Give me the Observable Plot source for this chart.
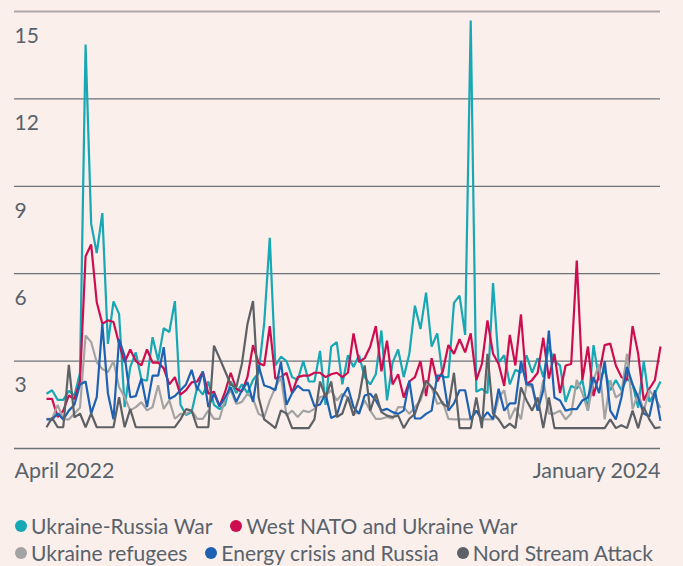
<!DOCTYPE html>
<html>
<head>
<meta charset="utf-8">
<script src="https://cdn.jsdelivr.net/npm/d3@7"></script>
<script src="https://cdn.jsdelivr.net/npm/@observablehq/plot@0.6"></script>
<style>
  html, body { margin: 0; padding: 0; background: #fbefec; }
  body { width: 683px; height: 566px; overflow: hidden; font-family: Lato, "Open Sans", sans-serif; color: #58626b; }
  #legend { margin-top: 12px; padding-left: 15px; font-size: 21px; line-height: 27px; }
  .row { display: flex; align-items: center; white-space: nowrap; }
  .item { display: flex; align-items: center; margin-right: 18px; }
  .dot { width: 12px; height: 12px; border-radius: 50%; margin-right: 4px; flex: none; }
</style>
</head>
<body>
<div id="chart"></div>
<div id="legend"></div>
<script>
// Series names, colours and legend rows
const seriesNames = ["Ukraine-Russia War", "West NATO and Ukraine War", "Ukraine refugees", "Energy crisis and Russia", "Nord Stream Attack"];
const seriesColors = ["#17a8b5", "#cc0d4f", "#a3a3a3", "#1d62b2", "#5d6165"];
const legendRows = [[0, 1], [2, 3, 4]];

// Tick labels
const yTicks = [0, 3, 6, 9, 12, 15];
const xLabels = ["April 2022", "January 2024"];

// Series values (one value per period, left to right)
const ukraineRussiaWar = [1.88,2.0,1.67,1.67,1.98,1.81,2.6,13.87,7.71,6.71,8.08,3.59,5.05,4.62,1.42,2.79,3.3,2.37,2.33,3.82,3.02,4.13,4.0,5.06,1.5,1.15,1.25,2.1,1.85,2.3,1.5,1.35,1.5,2.3,1.9,2.2,1.9,2.35,2.6,4.3,7.23,2.85,3.15,3.0,2.45,2.35,3.0,2.3,2.3,3.35,1.5,3.5,3.65,2.2,3.2,2.8,3.2,2.45,2.2,2.55,4.05,1.65,2.95,3.4,2.45,3.25,4.9,4.1,5.35,3.5,3.95,2.45,2.45,5.0,5.25,3.9,14.69,1.95,2.05,1.9,5.68,2.95,3.2,2.2,2.7,2.6,3.2,2.6,3.1,2.45,3.5,3.0,2.85,1.6,2.15,2.05,2.35,1.3,3.55,2.35,2.7,2.0,2.35,2.0,2.4,2.2,1.4,3.0,1.6,1.9,2.3];
const westNatoUkraineWar = [1.7,1.7,1.08,1.3,1.82,1.7,2.3,6.6,7.0,5.02,4.28,4.4,4.34,3.6,2.96,3.4,3.0,2.85,3.4,2.95,2.95,2.75,2.2,2.45,1.85,2.0,2.27,2.3,2.63,1.88,1.95,1.45,1.95,2.6,2.05,1.95,2.45,3.55,2.93,2.85,4.2,2.4,2.45,2.6,1.9,2.45,2.5,2.5,2.6,2.6,2.45,2.55,2.6,2.45,2.6,3.95,2.97,3.1,3.5,4.2,2.65,3.7,2.2,2.55,1.75,2.3,2.45,3.0,1.8,3.1,2.3,2.65,3.55,3.25,3.75,3.3,3.95,2.35,2.9,4.4,3.25,2.9,2.15,3.9,2.85,4.6,2.2,2.35,2.6,3.8,2.4,3.25,1.9,2.85,2.9,6.45,2.35,3.5,1.8,2.55,3.55,3.6,2.85,2.45,2.35,4.2,3.25,1.65,2.05,2.35,3.5];
const ukraineRefugees = [1.02,1.02,1.5,1.0,1.0,1.2,1.4,3.88,3.65,2.96,2.73,2.62,3.0,2.1,1.76,1.31,1.42,1.59,1.31,1.42,2.17,1.36,1.65,1.02,1.19,1.19,1.31,1.02,1.02,1.31,1.02,1.02,1.7,2.0,1.53,1.6,1.88,1.7,1.19,1.08,1.65,2.1,2.45,1.13,1.3,1.08,1.3,1.25,1.36,1.76,1.82,2.0,1.65,1.88,1.76,1.19,1.25,1.65,1.3,1.02,1.02,1.08,1.02,1.42,1.42,1.19,1.42,1.65,2.28,2.1,1.53,1.6,1.02,1.0,1.0,1.0,1.0,1.3,1.0,1.0,1.0,1.75,2.0,1.0,1.4,1.0,2.2,2.1,1.3,2.35,1.2,1.2,1.3,1.0,1.2,2.35,1.9,1.3,2.35,2.9,1.0,2.35,1.75,1.9,3.25,1.35,1.9,1.3,2.0,1.75,1.4];
const energyCrisisRussia = [1.0,1.0,1.2,1.0,1.3,1.5,2.2,2.3,1.2,1.76,4.28,1.9,1.0,3.75,3.17,1.76,1.8,2.4,1.42,2.5,2.5,3.48,1.7,1.8,2.0,2.2,2.7,2.0,2.65,1.42,1.88,1.45,1.76,2.1,1.6,2.0,2.28,1.6,2.85,2.16,2.1,2.0,2.97,1.5,1.9,2.16,2.0,2.0,1.45,1.51,1.88,1.05,1.14,1.76,2.1,1.42,1.19,1.82,1.88,1.65,1.3,1.36,1.25,1.19,1.3,2.33,1.03,1.03,1.19,1.3,2.5,2.5,1.3,1.55,2.0,2.0,1.0,1.3,1.0,1.25,1.0,2.05,1.3,1.55,1.55,3.0,2.2,2.2,1.3,2.0,4.05,1.75,1.65,1.3,1.35,1.35,1.65,1.75,2.45,1.9,3.0,1.3,1.0,1.75,2.8,2.2,1.75,1.2,1.1,2.0,0.95];
const nordStreamAttack = [0.73,1.05,0.73,0.73,2.87,1.07,1.2,0.73,1.2,0.73,0.73,0.73,0.73,1.76,0.73,1.35,0.73,0.73,0.73,0.73,0.73,0.73,0.73,0.73,1.0,1.35,1.3,0.73,0.73,0.73,3.53,3.1,2.65,2.2,2.1,2.9,4.27,5.06,1.76,1.0,0.85,0.7,1.31,1.2,0.7,0.7,0.7,0.7,1.0,2.3,1.76,2.3,1.08,1.2,1.76,1.13,1.76,2.85,1.3,1.88,1.25,1.13,1.08,1.13,0.7,1.02,1.19,1.76,2.33,2.1,1.88,1.53,1.42,2.6,0.7,0.7,0.7,1.75,0.7,3.25,1.2,1.0,0.7,0.85,0.7,2.1,1.65,1.3,1.75,0.7,1.75,0.7,0.7,0.7,0.7,0.7,0.7,0.7,0.7,0.7,0.7,1.0,0.7,0.8,0.7,1.3,0.7,1.42,1.0,0.7,0.73];

const seriesValues = [ukraineRussiaWar, westNatoUkraineWar, ukraineRefugees, energyCrisisRussia, nordStreamAttack];
const rows = seriesValues.flatMap((vals, s) => vals.map((v, i) => ({series: seriesNames[s], period: i, value: v})));
const lastPeriod = ukraineRussiaWar.length - 1;
const xDomain = [-5.735, lastPeriod];

const textColor = "#58626b";

const chart = Plot.plot({
  width: 683,
  height: 500,
  marginTop: 11,
  marginBottom: 52,
  marginLeft: 14,
  marginRight: 23,
  style: {background: "transparent", fontFamily: "Lato, 'Open Sans', sans-serif", overflow: "visible"},
  x: {domain: xDomain, axis: null},
  y: {domain: [0, 15], axis: null},
  color: {domain: seriesNames, range: seriesColors},
  marks: [
    Plot.ruleY(yTicks, {stroke: d => d === 15 ? "#aba8a9" : "#6d7277", strokeWidth: d => d === 15 ? 2 : 1.3}),
    Plot.text(yTicks.filter(d => d > 0), {x: xDomain[0], y: d => d, text: d => String(d), dy: 24.5, textAnchor: "start", fontSize: 21, fill: textColor}),
    Plot.line(rows, {x: "period", y: "value", z: "series", stroke: "series", strokeWidth: 2.2, strokeLinejoin: "miter", strokeLinecap: "butt"}),
    Plot.text([xLabels[0]], {x: [xDomain[0]], frameAnchor: "bottom", dy: 29, textAnchor: "start", fontSize: 21.5, fill: textColor}),
    Plot.text([xLabels[1]], {x: [xDomain[1]], frameAnchor: "bottom", dy: 29, textAnchor: "end", fontSize: 21.5, fill: textColor})
  ]
});
document.getElementById("chart").appendChild(chart);

const legend = document.getElementById("legend");
legendRows.forEach(r => {
  const row = document.createElement("div");
  row.className = "row";
  r.forEach(k => {
    const item = document.createElement("div");
    item.className = "item";
    const dot = document.createElement("span");
    dot.className = "dot";
    dot.style.background = seriesColors[k];
    const label = document.createElement("span");
    label.textContent = seriesNames[k];
    item.appendChild(dot);
    item.appendChild(label);
    row.appendChild(item);
  });
  legend.appendChild(row);
});
</script>
</body>
</html>
